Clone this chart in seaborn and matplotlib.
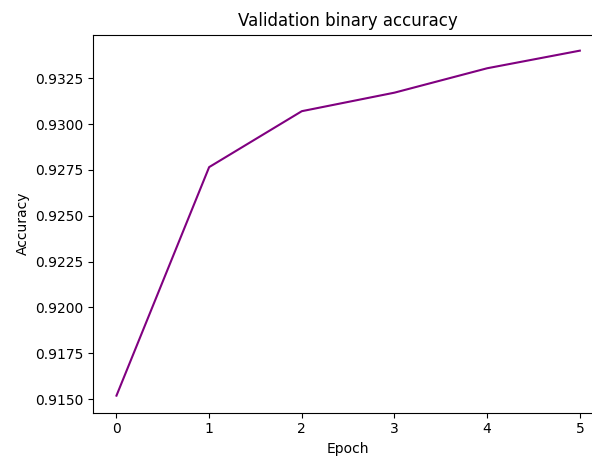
import matplotlib
matplotlib.use("Agg")
import matplotlib.pyplot as plt
import seaborn as sns
import pandas as pd

epochs = [0, 1, 2, 3, 4, 5]
val_binary_accuracy = [0.91519, 0.92765, 0.93070, 0.93171, 0.93304, 0.93400]

df = pd.DataFrame({"Epoch": epochs, "Accuracy": val_binary_accuracy})

fig = plt.figure(figsize=(5.92, 4.57), dpi=100)
ax = fig.add_axes([93.3 / 592, 44.3 / 457, (603 - 93.3) / 592, (412.7 - 34.7) / 457])
sns.lineplot(data=df, x="Epoch", y="Accuracy", color="purple", linewidth=1.5, ax=ax)
ax.set_title("Validation binary accuracy")
ax.set_xlabel("Epoch")
ax.set_ylabel("Accuracy")
ax.set_yticks([0.9150, 0.9175, 0.9200, 0.9225, 0.9250, 0.9275, 0.9300, 0.9325])
ax.yaxis.set_major_formatter(matplotlib.ticker.FormatStrFormatter("%.4f"))
ax.set_ylim(0.91426, 0.93487)
fig.savefig("out.png", dpi=100)
